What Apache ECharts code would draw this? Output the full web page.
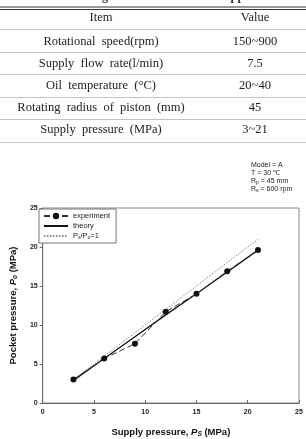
<!DOCTYPE html>
<html><head><meta charset="utf-8">
<script src="https://cdn.jsdelivr.net/npm/echarts@6/dist/echarts.min.js"></script>
<style>html,body{margin:0;padding:0;background:#fff}#c{width:306px;height:439px}</style>
</head><body><div id="c"></div>
<script>
// ---- data ----
const tableTitle = 'Table 1 Testing conditions of the test apparatus';
const tableHeader = ['Item', 'Value'];
const tableItems = ['Rotational  speed(rpm)', 'Supply  flow  rate(l/min)', 'Oil  temperature  (\u00B0C)', 'Rotating  radius  of  piston  (mm)', 'Supply  pressure  (MPa)'];
const tableValues = ['150~900', '7.5', '20~40', '45', '3~21'];

const supplyPressure = [3, 6, 9, 12, 15, 18, 21];
const experiment = [3.0, 5.7, 7.6, 11.7, 14.0, 16.9, 19.6];
const theory = [2.9, 5.7, 8.5, 11.3, 14.0, 16.8, 19.6];
const idealX = [3, 21];
const idealY = [3, 21];
const axisTicks = [0, 5, 10, 15, 20, 25];
const annotation = ['Model = A', 'T = 30 \u2103', 'R{s|p} = 45 mm', 'R{s|s} = 600 rpm'];
const seriesNames = ['experiment', 'theory', 'Ps/Po=1'];

// ---- chart ----
const chart = echarts.init(document.getElementById('c'), null, {renderer: 'canvas'});
const serif = '"Liberation Serif", "Times New Roman", serif';
const sans = '"Liberation Sans", Arial, sans-serif';

const graphics = [];
// title (clipped at top)
graphics.push({type: 'text', left: 'center', top: -10, style: {text: tableTitle, font: 'bold 12.5px ' + serif, fill: '#333'}});
// double top rule
graphics.push({type: 'line', shape: {x1: 0, y1: 7, x2: 306, y2: 7}, style: {stroke: '#333', lineWidth: 1}});
graphics.push({type: 'line', shape: {x1: 0, y1: 9.5, x2: 306, y2: 9.5}, style: {stroke: '#333', lineWidth: 1}});
const rowY = [18, 42, 63.5, 86, 108, 130];
const lineY = [29.5, 52.5, 74.5, 97.5, 119.5, 142.5];
lineY.forEach(y => graphics.push({type: 'line', shape: {x1: 0, y1: y, x2: 306, y2: y}, style: {stroke: '#c4c4c4', lineWidth: 1}}));
const rowsL = [tableHeader[0]].concat(tableItems);
const rowsR = [tableHeader[1]].concat(tableValues);
rowsL.forEach((t, i) => graphics.push({type: 'text', x: 101, y: rowY[i], style: {text: t, font: '12.5px ' + serif, fill: '#222', align: 'center', verticalAlign: 'middle'}}));
rowsR.forEach((t, i) => graphics.push({type: 'text', x: 255, y: rowY[i], style: {text: t, font: '12.5px ' + serif, fill: '#222', align: 'center', verticalAlign: 'middle'}}));
// annotation
annotation.forEach((t, i) => graphics.push({type: 'text', x: 251, y: 165 + i * 8, style: {text: t, font: '7px ' + sans, fill: '#222', verticalAlign: 'middle', rich: {s: {fontSize: 5, fontFamily: sans, verticalAlign: 'bottom', padding: [4, 0, 0, 0]}}}}));

const labelStyle = {fontFamily: sans, fontWeight: 'bold', fontSize: 7, color: '#222'};

chart.setOption({
  animation: false,
  backgroundColor: '#fff',
  graphic: graphics,
  grid: {left: 38, right: 7, top: 208, bottom: 36, show: true, borderColor: '#888', borderWidth: 1, containLabel: false},
  legend: {
    orient: 'vertical', left: 39, top: 209, padding: [3, 6, 3, 4], itemGap: 2,
    itemWidth: 24, itemHeight: 8, borderColor: '#777', borderWidth: 1, backgroundColor: '#fff',
    textStyle: {fontFamily: sans, fontSize: 7.5, color: '#222', rich: {s: {fontSize: 5, fontFamily: sans, verticalAlign: 'bottom'}}},
    formatter: n => n === seriesNames[2] ? 'P{s|s}/P{s|o}=1' : n,
    data: [
      {name: seriesNames[0]},
      {name: seriesNames[1], itemStyle: {opacity: 0}},
      {name: seriesNames[2], itemStyle: {opacity: 0}}
    ]
  },
  xAxis: {
    type: 'value', min: 0, max: 25, interval: 5,
    name: 'Supply pressure, {i|P}{s|S} (MPa)', nameLocation: 'middle', nameGap: 23,
    nameTextStyle: {fontFamily: sans, fontWeight: 'bold', fontSize: 9.5, color: '#111',
      rich: {i: {fontFamily: sans, fontWeight: 'bold', fontStyle: 'italic', fontSize: 9.5, color: '#111'}, s: {fontFamily: sans, fontWeight: 'bold', fontStyle: 'italic', fontSize: 6.5, color: '#111', verticalAlign: 'bottom', padding: [5, 0, 0, 0]}}},
    axisLine: {show: true, lineStyle: {color: '#666'}},
    axisTick: {show: true, inside: true, length: 3, lineStyle: {color: '#666'}},
    axisLabel: Object.assign({margin: 6, formatter: v => axisTicks.includes(v) ? String(v) : ''}, labelStyle),
    splitLine: {show: false}
  },
  yAxis: {
    type: 'value', min: 0, max: 25, interval: 5,
    name: 'Pocket pressure, {i|P}{s|o} (MPa)', nameLocation: 'middle', nameGap: 22,
    nameTextStyle: {fontFamily: sans, fontWeight: 'bold', fontSize: 9.5, color: '#111',
      rich: {i: {fontFamily: sans, fontWeight: 'bold', fontStyle: 'italic', fontSize: 9.5, color: '#111'}, s: {fontFamily: sans, fontWeight: 'bold', fontStyle: 'italic', fontSize: 6.5, color: '#111', verticalAlign: 'bottom', padding: [5, 0, 0, 0]}}},
    axisLine: {show: true, lineStyle: {color: '#666'}},
    axisTick: {show: true, inside: false, length: 3, lineStyle: {color: '#666'}},
    axisLabel: Object.assign({margin: 5, formatter: v => axisTicks.includes(v) ? String(v) : ''}, labelStyle),
    splitLine: {show: false}
  },
  series: [
    {name: seriesNames[0], type: 'line', data: supplyPressure.map((x, i) => [x, experiment[i]]),
      symbol: 'circle', symbolSize: 6, itemStyle: {color: '#111'},
      lineStyle: {color: '#333', width: 1, type: [6, 3]}, z: 4},
    {name: seriesNames[1], type: 'line', data: supplyPressure.map((x, i) => [x, theory[i]]),
      symbol: 'none', itemStyle: {color: '#111'}, lineStyle: {color: '#111', width: 1.3}, z: 3},
    {name: seriesNames[2], type: 'line', data: idealX.map((x, i) => [x, idealY[i]]),
      symbol: 'none', itemStyle: {color: '#888'}, lineStyle: {color: '#888', width: 1, type: [1.5, 1.5]}, z: 2}
  ]
});
</script>
</body></html>
